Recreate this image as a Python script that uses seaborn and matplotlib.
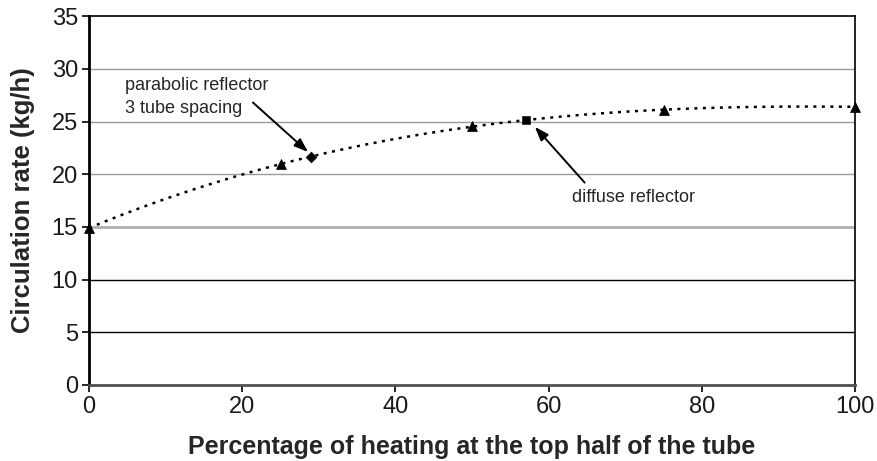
import numpy as np
import pandas as pd
import seaborn as sns
import matplotlib.pyplot as plt

sns.set_theme(style="white")
plt.rcParams['font.family'] = ['Liberation Sans', 'DejaVu Sans']

# Measured circulation rates
heating_pct = [0, 25, 50, 75, 100]
circ_rate = [14.9, 21.0, 24.6, 26.1, 26.4]

# Special configurations
parabolic_x, parabolic_y = [29], [21.6]
diffuse_x, diffuse_y = [57], [25.1]

x_ticks = [0, 20, 40, 60, 80, 100]
y_ticks = [0, 5, 10, 15, 20, 25, 30, 35]

fig = plt.figure(figsize=(8.77, 4.61), dpi=100)
ax = fig.add_axes([0.1015, 0.165, 0.8735, 0.80])

# Horizontal grid lines
for yv in y_ticks[1:-1]:
    if yv in (5, 10):
        ax.axhline(yv, color='black', lw=1.0, zorder=0)
    elif yv == 15:
        ax.axhline(yv, color='#b0b0b0', lw=2.0, zorder=0)
    else:
        ax.axhline(yv, color='#9a9a9a', lw=1.0, zorder=0)

# Polynomial trend line through all measured points
all_x = np.array(heating_pct + parabolic_x + diffuse_x, dtype=float)
all_y = np.array(circ_rate + parabolic_y + diffuse_y, dtype=float)
coef = np.polyfit(all_x, all_y, 3)
xs = np.linspace(0, 100, 200)
trend = pd.DataFrame({'x': xs, 'y': np.polyval(coef, xs)})
sns.lineplot(data=trend, x='x', y='y', ax=ax, color='black', lw=1.8,
             linestyle=(0, (1.2, 2.2)), zorder=2)

df = pd.DataFrame({'x': heating_pct, 'y': circ_rate})
sns.scatterplot(data=df, x='x', y='y', ax=ax, marker='^', s=50,
                color='black', edgecolor='black', zorder=3, clip_on=False)
sns.scatterplot(x=parabolic_x, y=parabolic_y, ax=ax, marker='D', s=30,
                color='black', edgecolor='black', zorder=3)
sns.scatterplot(x=diffuse_x, y=diffuse_y, ax=ax, marker='s', s=28,
                color='black', edgecolor='black', zorder=3)

arrow = dict(arrowstyle='-|>,head_length=0.7,head_width=0.25',
             color='black', lw=1.4, shrinkA=0, shrinkB=0)

ax.text(4.7, 29.2, 'parabolic reflector\n3 tube spacing', fontsize=13,
        ha='left', va='top', linespacing=1.45)
ax.annotate('', xy=(28.6, 22.1), xytext=(21.4, 26.8), arrowprops=arrow)

ax.text(63.0, 17.8, 'diffuse reflector', fontsize=13, ha='left',
        va='center')
ax.annotate('', xy=(58.2, 24.5), xytext=(64.7, 19.2), arrowprops=arrow)

ax.set_xlim(0, 100)
ax.set_ylim(0, 35)
ax.set_xticks(x_ticks)
ax.set_yticks(y_ticks)
ax.tick_params(axis='both', labelsize=17, length=5, width=1.2,
               direction='out', color='black', bottom=True, left=True,
               pad=3, labelcolor='#1a1a1a')
for s in ax.spines.values():
    s.set_color('black')
    s.set_linewidth(1.2)
ax.spines['bottom'].set_linewidth(2.0)
ax.spines['left'].set_linewidth(2.0)
ax.spines['bottom'].set_color('#505050')

ax.set_xlabel('Percentage of heating at the top half of the tube',
              fontsize=18, fontweight='bold', labelpad=12)
ax.set_ylabel('Circulation rate (kg/h)', fontsize=18.5, fontweight='bold',
              labelpad=12)

fig.savefig('out.png', dpi=100)
